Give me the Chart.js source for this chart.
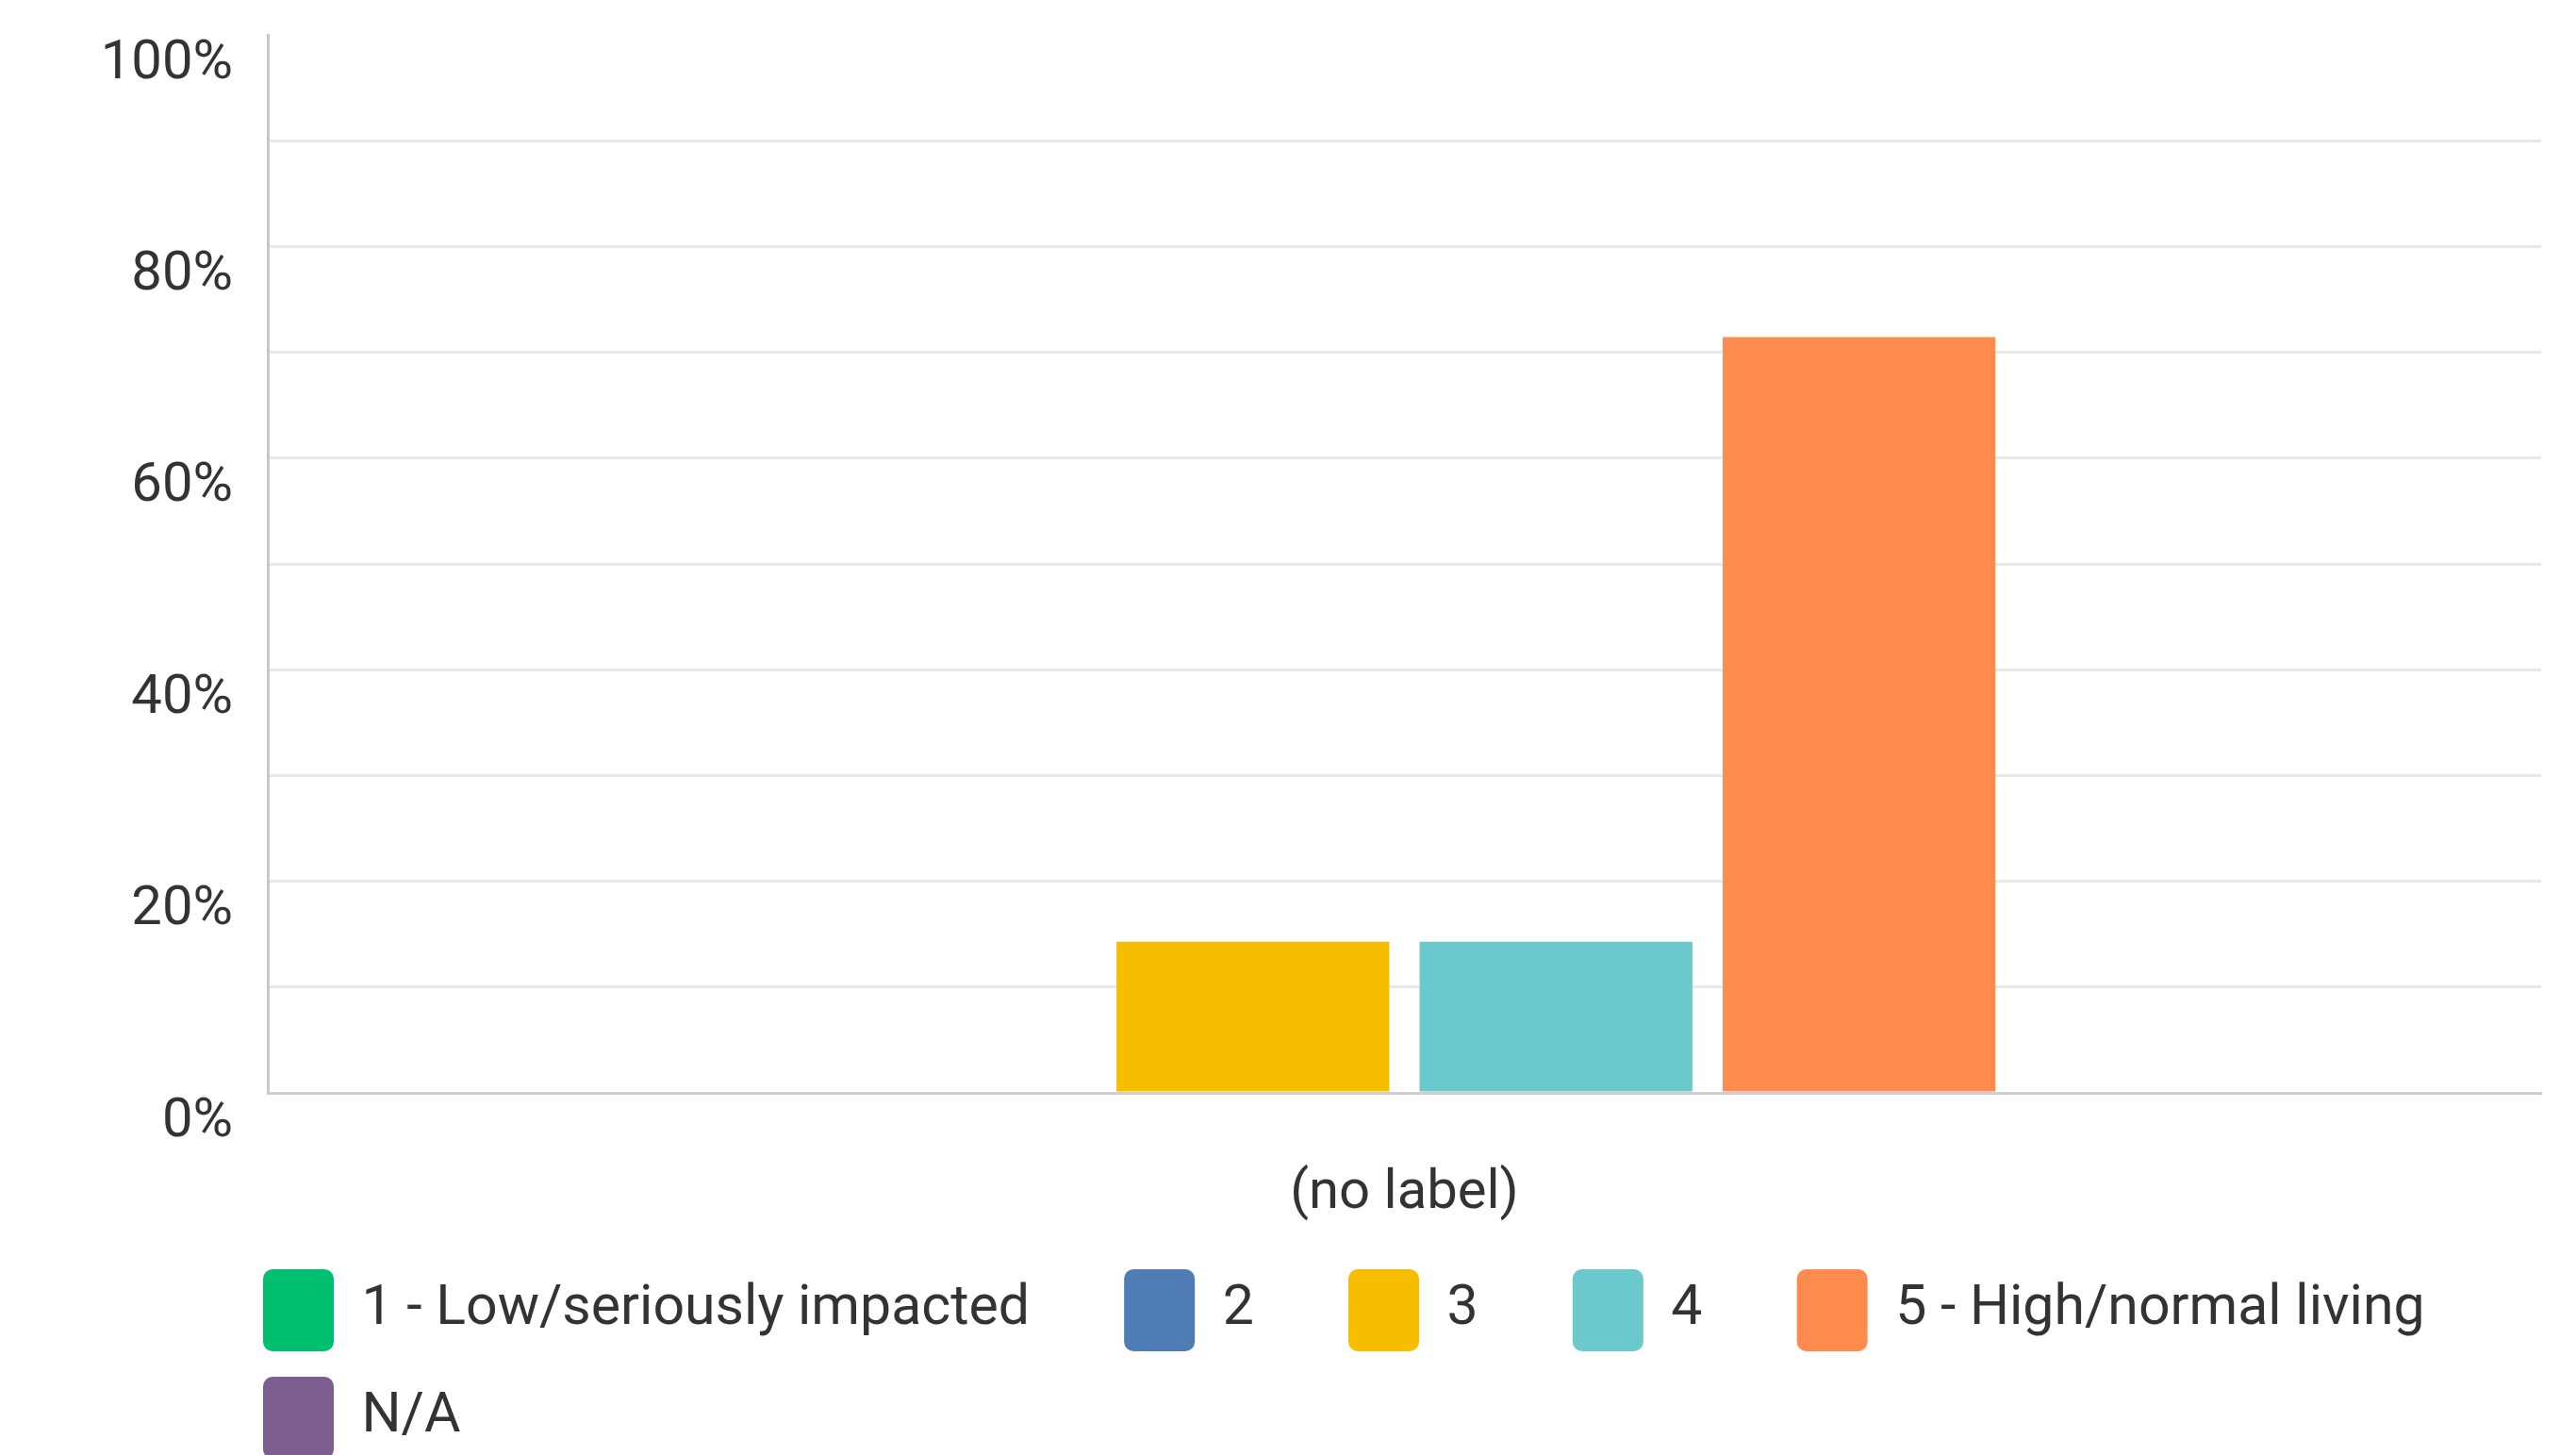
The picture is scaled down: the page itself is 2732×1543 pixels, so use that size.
<!DOCTYPE html>
<html>
<head>
<meta charset="utf-8">
<script src="https://cdn.jsdelivr.net/npm/chart.js@4/dist/chart.umd.min.js"></script>
<style>
  html, body { margin: 0; padding: 0; background: #fff; }
  #wrap { width: 2732px; height: 1543px; position: relative; }
</style>
</head>
<body>
<div id="wrap"><canvas id="grafica"></canvas></div>
<script>
const categorias = ['(no label)'];
const series = ['1 - Low/seriously impacted', '2', '3', '4', '5 - High/normal living', 'N/A'];
const valores = [0, 0, 14.29, 14.29, 71.43, 0];
const colores = ['#00bf6f', '#507cb6', '#f7be00', '#6bc8cd', '#ff8b4f', '#7d5e90'];
const ticksY = [0, 20, 40, 60, 80, 100];

const fuente = "Roboto, 'Open Sans', sans-serif";

const datasets = series.map((nombre, i) => ({
    label: nombre,
    data: [valores[i]],
    backgroundColor: colores[i],
    borderWidth: 0
}));

// la leyenda empieza alineada con el eje, no con el borde del canvas
const moverLeyenda = {
    id: 'moverLeyenda',
    afterLayout(chart) {
        chart.legend.left += 147;
        chart.legend.right += 147;
    }
};

const ctx = document.getElementById('grafica').getContext('2d');

const myChart = new Chart(ctx, {
    type: 'bar',
    data: {
        labels: categorias,
        datasets: datasets
    },
    plugins: [moverLeyenda],
    options: {
        responsive: true,
        maintainAspectRatio: false,
        animation: false,
        layout: {
            padding: { left: 105, right: 37, top: 37, bottom: -14 }
        },
        datasets: {
            bar: { categoryPercentage: 0.8, barPercentage: 0.9 }
        },
        scales: {
            x: {
                grid: { display: false, drawTicks: false },
                border: { color: '#cfcfcf', width: 3 },
                ticks: {
                    color: '#333',
                    padding: 73,
                    font: { family: fuente, size: 58 }
                },
                afterFit: scale => { scale.height = 160; }
            },
            y: {
                min: 0,
                max: 100,
                grid: {
                    drawTicks: false,
                    lineWidth: 3,
                    color: c => c.tick && c.tick.value === 100 ? 'rgba(0,0,0,0)' : '#e8e8e8'
                },
                border: { color: '#c8c8c8', width: 3 },
                ticks: {
                    stepSize: 10,
                    color: '#333',
                    padding: 37,
                    labelOffset: 31,
                    font: { family: fuente, size: 58 },
                    callback: v => ticksY.includes(v) ? v + '%' : ''
                },
                afterFit: scale => {
                    scale.width = 179;
                    scale.paddingTop = 0;
                    scale.paddingBottom = 0;
                }
            }
        },
        plugins: {
            tooltip: { enabled: false },
            legend: {
                position: 'bottom',
                align: 'start',
                labels: {
                    color: '#333',
                    boxWidth: 75,
                    boxHeight: 87,
                    padding: 27,
                    useBorderRadius: true,
                    borderRadius: 10,
                    font: { family: fuente, size: 59 },
                    generateLabels: chart => {
                        const items = Chart.defaults.plugins.legend.labels.generateLabels(chart);
                        items.forEach(it => {
                            it.text = it.text + '\u00a0'.repeat(5);
                            it.lineWidth = 0;
                        });
                        return items;
                    }
                }
            }
        }
    }
});
</script>
</body>
</html>
